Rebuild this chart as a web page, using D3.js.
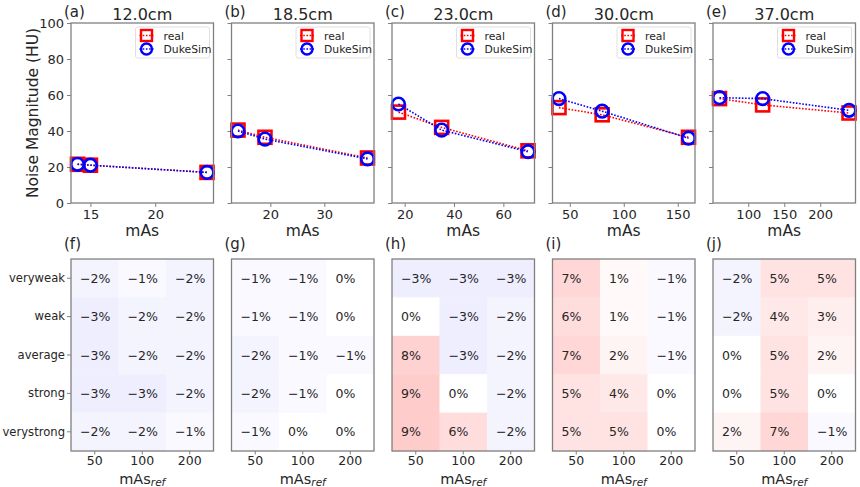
<!DOCTYPE html>
<html><head><meta charset="utf-8">
<script src="https://cdn.jsdelivr.net/npm/d3@7"></script>
<style>body{margin:0;background:#fff}svg{display:block;font-family:"DejaVu Sans",sans-serif}</style>
</head><body><svg id="c" width="860" height="487"></svg>
<script>
// ---- data ----
const sizes = ["12.0cm","18.5cm","23.0cm","30.0cm","37.0cm"];
const topLabels = ["(a)","(b)","(c)","(d)","(e)"];
const botLabels = ["(f)","(g)","(h)","(i)","(j)"];
const mAs = [[14,15,24],[14,19,38],[17.5,35,70],[40,80,160],[60,120,240]];
const realNoise = [[21.5,21,17],[40.5,36.5,25],[50.5,42,29],[53,49,36.5],[58,54.5,50]];
const dukeNoise = [[21.5,21,17],[40,35.5,24.5],[55,40.5,28.5],[58,51,36],[58.5,58,51.5]];
const xTicks = [[15,20],[20,30],[20,40,60],[50,100,150],[100,150,200]];
const yTicks = [0,20,40,60,80,100];
const strengths = ["veryweak","weak","average","strong","verystrong"];
const mAsRef = ["50","100","200"];
const diffPct = [
  [[-2,-1,-2],[-3,-2,-2],[-3,-2,-2],[-3,-3,-2],[-2,-2,-1]],
  [[-1,-1,0],[-1,-1,0],[-2,-1,-1],[-2,-1,0],[-1,0,0]],
  [[-3,-3,-3],[0,-3,-2],[8,-3,-2],[9,0,-2],[9,6,-2]],
  [[7,1,-1],[6,1,-1],[7,2,-1],[5,4,0],[5,5,0]],
  [[-2,5,5],[-2,4,3],[0,5,2],[0,5,0],[2,7,-1]]
];

// ---- layout ----
const svg = d3.select("#c");
const lefts = [71,231.5,392,552.5,713];
const pw = 142.5;
const topY0 = 23, topY1 = 203;
const botY0 = 259, botY1 = 451;
const txt = "#262626", spine = "#808080";
const V = 45;
const color = d3.scaleLinear().domain([-V,0,V]).range(["#0000ff","#ffffff","#ff0000"]).interpolate(d3.interpolateRgb);

function styleAxis(g, fs){
  g.selectAll("path").remove();
  g.selectAll("line").attr("stroke", spine).attr("stroke-width",1);
  g.selectAll("text").attr("fill", txt).style("font-size",(fs||13)+"px").style("font-family","DejaVu Sans");
}

sizes.forEach((sz,i)=>{
  const x0 = lefts[i], x1 = x0+pw;
  // ---------- top line plots ----------
  const ext = d3.extent(mAs[i]); const pad = (ext[1]-ext[0])*0.05;
  const x = d3.scaleLinear().domain([ext[0]-pad, ext[1]+pad]).range([x0,x1]);
  const y = d3.scaleLinear().domain([0,100]).range([topY1,topY0]);
  const g = svg.append("g");
  g.append("rect").attr("x",x0).attr("y",topY0).attr("width",pw).attr("height",topY1-topY0)
    .attr("fill","#fff");
  const ya = g.append("g").attr("transform",`translate(${x0},0)`)
    .call(d3.axisLeft(y).tickValues(yTicks).tickSize(4).tickPadding(3).tickFormat(i===0?d3.format("d"):""));
  styleAxis(ya);
  const xa = g.append("g").attr("transform",`translate(0,${topY1})`)
    .call(d3.axisBottom(x).tickValues(xTicks[i]).tickSize(4).tickPadding(3).tickFormat(d3.format("d")));
  styleAxis(xa);
  const series = [
    {vals: realNoise[i], col:"#ff0000", shape:"sq"},
    {vals: dukeNoise[i], col:"#0000ff", shape:"ci"}
  ];
  const line = d3.line().x((d,k)=>x(mAs[i][k])).y(d=>y(d));
  series.forEach(s=>{
    g.append("path").attr("d", line(s.vals)).attr("fill","none").attr("stroke",s.col)
      .attr("stroke-width",1.6).attr("stroke-dasharray","1.6,1.6");
    s.vals.forEach((v,k)=>{
      if(s.shape==="sq") g.append("rect").attr("x",x(mAs[i][k])-6.5).attr("y",y(v)-6.5)
        .attr("width",13).attr("height",13).attr("fill","none").attr("stroke",s.col).attr("stroke-width",2.6);
      else g.append("circle").attr("cx",x(mAs[i][k])).attr("cy",y(v)).attr("r",6.3)
        .attr("fill","none").attr("stroke",s.col).attr("stroke-width",2.6);
    });
  });
  g.append("rect").attr("x",x0).attr("y",topY0).attr("width",pw).attr("height",topY1-topY0)
    .attr("fill","none").attr("stroke",spine).attr("stroke-width",1.3);
  // legend
  const lx = x1-78, ly = topY0+4;
  g.append("rect").attr("x",lx).attr("y",ly).attr("width",74).attr("height",31).attr("rx",2)
    .attr("fill","#fff").attr("fill-opacity",0.8).attr("stroke","#d8d8d8").attr("stroke-width",0.8);
  [["real","#ff0000","sq"],["DukeSim","#0000ff","ci"]].forEach((it,k)=>{
    const cy = ly+8.5+k*13.5;
    g.append("line").attr("x1",lx+4).attr("x2",lx+18).attr("y1",cy).attr("y2",cy)
      .attr("stroke",it[1]).attr("stroke-width",1.6).attr("stroke-dasharray","1.6,1.6");
    if(it[2]==="sq") g.append("rect").attr("x",lx+11-5.5).attr("y",cy-5.5).attr("width",11).attr("height",11)
      .attr("fill","none").attr("stroke",it[1]).attr("stroke-width",2.4);
    else g.append("circle").attr("cx",lx+11).attr("cy",cy).attr("r",5.5)
      .attr("fill","none").attr("stroke",it[1]).attr("stroke-width",2.4);
    g.append("text").attr("x",lx+28).attr("y",cy+4).text(it[0]).attr("fill",txt).style("font-size","10.8px");
  });
  g.append("text").attr("x",x0-7).attr("y",17).text(topLabels[i]).attr("fill",txt).style("font-size","15px");
  g.append("text").attr("x",(x0+x1)/2).attr("y",19.5).attr("text-anchor","middle").text(sz)
    .attr("fill",txt).style("font-size","16px");
  g.append("text").attr("x",(x0+x1)/2).attr("y",236).attr("text-anchor","middle").text("mAs")
    .attr("fill",txt).style("font-size","15.5px");

  // ---------- bottom heatmaps ----------
  const hx = d3.scaleBand().domain(mAsRef).range([x0,x1]);
  const hy = d3.scaleBand().domain(strengths).range([botY0,botY1]);
  const h = svg.append("g");
  diffPct[i].forEach((row,r)=>{
    row.forEach((v,c)=>{
      h.append("rect").attr("x",hx(mAsRef[c])).attr("y",hy(strengths[r]))
        .attr("width",hx.bandwidth()+0.5).attr("height",hy.bandwidth()+0.5).attr("fill",color(v));
      h.append("text").attr("x",hx(mAsRef[c])+9).attr("y",hy(strengths[r])+hy.bandwidth()/2+4.5)
        .text((v<0?"\u2212":"")+Math.abs(v)+"%").attr("fill",txt).style("font-size","12.5px");
    });
  });
  h.append("rect").attr("x",x0).attr("y",botY0).attr("width",pw).attr("height",botY1-botY0)
    .attr("fill","none").attr("stroke",spine).attr("stroke-width",1.3);
  const hxa = h.append("g").attr("transform",`translate(0,${botY1})`)
    .call(d3.axisBottom(hx).tickSize(3.5).tickPadding(1.5));
  styleAxis(hxa, 12.5);
  if(i===0){
    const hya = h.append("g").attr("transform",`translate(${x0},0)`)
      .call(d3.axisLeft(hy).tickSize(4).tickPadding(2));
    styleAxis(hya, 11.6);
  }
  const xl = h.append("text").attr("x",(x0+x1)/2).attr("y",484).attr("text-anchor","middle")
    .attr("fill",txt).style("font-size","14.5px");
  xl.append("tspan").text("mAs");
  xl.append("tspan").text("ref").attr("dy",2).style("font-style","italic").style("font-size","10.5px");
  h.append("text").attr("x",x0-7).attr("y",249).text(botLabels[i]).attr("fill",txt).style("font-size","15px");
});

svg.append("text").attr("transform","translate(38,113) rotate(-90)").attr("text-anchor","middle")
  .text("Noise Magnitude (HU)").attr("fill",txt).style("font-size","15.5px");
</script>
</body></html>
